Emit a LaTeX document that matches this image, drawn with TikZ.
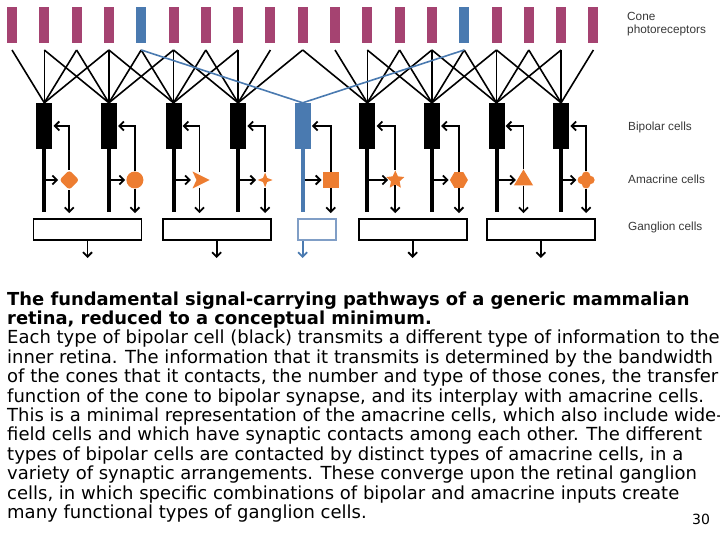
\documentclass[tikz,border=0pt]{standalone}
\usepackage{fontspec}
\usepackage{tikz}
\usetikzlibrary{arrows.meta, shapes.geometric}
\newfontfamily\lblfont{Liberation Sans}
\newfontfamily\txtfont{DejaVu Sans}
\definecolor{conepink}{RGB}{165,67,113}
\definecolor{coneblue}{RGB}{74,122,176}
\definecolor{amaorange}{RGB}{237,125,49}
\definecolor{gangblue}{RGB}{128,158,198}
\tikzset{every node/.append style={font=\lblfont\fontsize{11.8}{13}\selectfont}}
\tikzset{
  cone/.style={rectangle, fill=conepink, minimum width=10, minimum height=36, inner sep=0},
  bipolar/.style={rectangle, fill=black, minimum width=16, minimum height=46, inner sep=0},
  axon/.style={line width=4pt, shorten >=6pt},
  wire/.style={line width=1.6pt},
  ama/.style={fill=amaorange, inner sep=0, minimum size=17},
  gang/.style={draw, line width=1.8pt, fill=white, minimum width=108, minimum height=21, inner sep=0},
  sig/.style={->, line width=1.8pt, line join=miter},
  lbl/.style={anchor=west, inner sep=0, text=black!78, align=left},
  txt/.style={anchor=base west, inner sep=0, font=\txtfont\fontsize{18}{19}\selectfont},
  txtbold/.style={txt, font=\txtfont\bfseries\fontsize{17.9}{19}\selectfont},
}

\begin{document}
\begin{tikzpicture}[x=1pt, y=-1pt, >={Straight Barb[length=4.5pt, width=9pt]}]
    \useasboundingbox (0,0) rectangle (720,540);
    % cone photoreceptors, two of them blue
    \foreach \i in {1,...,19} {
        \ifnum\i=5 \def\cc{coneblue}\else\ifnum\i=15 \def\cc{coneblue}\else\def\cc{conepink}\fi\fi
        \node[cone, fill=\cc] (c\i) at ({12+(\i-1)*32.3}, 25) {};
        \coordinate (s\i) at ({12+(\i-1)*32.3}, 50);
    }
    % bipolar cells
    \foreach \j in {1,2,3,4,6,7,8,9} \node[bipolar] (b\j) at ({12+(2*\j-1)*32.3}, 126) {};
    \node[bipolar, fill=coneblue] (b5) at (302.7, 126) {};
    % each bipolar cell collects from the cones around it
    \foreach \j in {1,2,3,4,6,7,8,9} {
        \foreach \k in {-2,...,2} {
            \pgfmathtruncatemacro\i{2*\j+\k}
            \ifnum\i>0 \ifnum\i<20 \draw[wire] (s\i) -- (b\j.north); \fi\fi
        }
    }
    \draw[wire, coneblue] (s5) -- (b5.north);
    \draw[wire, coneblue] (s15) -- (b5.north);
    % ganglion cells
    \node[gang] (g1) at (87.5, 229.5) {};
    \node[gang] (g2) at (216.7, 229.5) {};
    \node[gang, draw=gangblue, minimum width=38] (g3) at (317, 229.5) {};
    \node[gang] (g4) at (412.7, 229.5) {};
    \node[gang] (g5) at (540.8, 229.5) {};
    \foreach \g/\x in {1/87.5, 2/216.7, 3/302.7, 4/412.7, 5/540.8} \coordinate (o\g) at (\x, 258);
    % amacrine cells
    \node[ama, diamond, rounded corners=3pt, minimum size=20] (a1) at ([shift={(25,54)}]b1) {};
    \node[ama, circle] (a2) at ([shift={(26,54)}]b2) {};
    \node[circle, inner sep=0, minimum size=15] (a3) at ([shift={(26,54)}]b3) {};
    \fill[amaorange] (a3) ++(-7,-8.5) -- ++(17,8.5) -- ++(-17,8.5) -- ++(4,-8.5) -- cycle;
    \node[ama, star, star points=4, star point ratio=2.6, minimum size=15] (a4) at ([shift={(27,54)}]b4) {};
    \node[ama, rectangle, minimum size=16] (a5) at ([shift={(28,54)}]b5) {};
    \node[ama, star, star points=5, star point ratio=2.1, minimum size=19] (a6) at ([shift={(28,54)}]b6) {};
    \node[ama, regular polygon, regular polygon sides=6, minimum size=18] (a7) at ([shift={(27,54)}]b7) {};
    \node[ama, isosceles triangle, isosceles triangle apex angle=62, shape border rotate=90, minimum height=16] (a8) at ([shift={(27,54)}]b8) {};
    \node[circle, inner sep=0, minimum size=17] (a9) at ([shift={(25,54)}]b9) {};
    \fill[amaorange] (a9) circle (4.5);
    \foreach \ang in {0,90,180,270} \fill[amaorange] (a9) ++(\ang:4.3) circle (4.2);
    % signal flow through the inner retina
    \foreach \j/\g in {1/1,2/1,3/2,4/2,6/4,7/4,8/5,9/5} {
        \draw[axon] (b\j.south) -- (b\j.south |- g\g.north);
        \draw[sig, shorten <=2pt, shorten >=1pt] (b\j.south |- a\j.west) -- (a\j.west);
        \draw[sig, shorten >=1pt] (a\j.north) |- (b\j.east);
        \draw[sig, shorten >=5pt] (a\j.south) -- (a\j.south |- g\g.north);
    }
    \draw[axon, coneblue] (b5.south) -- (b5.south |- g3.north);
    \draw[sig, shorten <=2pt, shorten >=1pt] (b5.south |- a5.west) -- (a5.west);
    \draw[sig, shorten >=1pt] (a5.north) |- (b5.east);
    \draw[sig, shorten >=5pt] (a5.south) -- (a5.south |- g3.north);
    \foreach \g in {1,2,4,5} \draw[sig] (g\g.south -| o\g) -- (o\g);
    \draw[sig, coneblue] (g3.south -| o3) -- (o3);
    % layer names
    \node[lbl] (lcone) at (627, 24.5) {Cone\\photoreceptors};
    \node[lbl] (lbip) at (628, 127) {Bipolar cells};
    \node[lbl] (lama) at (628, 179) {Amacrine cells};
    \node[lbl] (lgang) at (628, 227.5) {Ganglion cells};
    % caption
    \node[txtbold] (t1) at (7, 305) {The fundamental signal-carrying pathways of a generic mammalian};
    \node[txtbold] (t2) at (7, 324.4) {retina, reduced to a conceptual minimum.};
    \node[txt] (t3) at (7, 343.8) {Each type of bipolar cell (black) transmits a different type of information to the};
    \node[txt] (t4) at (7, 363.2) {inner retina. The information that it transmits is determined by the bandwidth};
    \node[txt] (t5) at (7, 382.6) {of the cones that it contacts, the number and type of those cones, the transfer};
    \node[txt] (t6) at (7, 402) {function of the cone to bipolar synapse, and its interplay with amacrine cells.};
    \node[txt] (t7) at (7, 421.4) {This is a minimal representation of the amacrine cells, which also include wide-};
    \node[txt] (t8) at (7, 440.8) {field cells and which have synaptic contacts among each other. The different};
    \node[txt] (t9) at (7, 460.2) {types of bipolar cells are contacted by distinct types of amacrine cells, in a};
    \node[txt] (t10) at (7, 479.6) {variety of synaptic arrangements. These converge upon the retinal ganglion};
    \node[txt] (t11) at (7, 499) {cells, in which specific combinations of bipolar and amacrine inputs create};
    \node[txt] (t12) at (7, 518.4) {many functional types of ganglion cells.};
    \node[txt, font=\txtfont\fontsize{14}{15}\selectfont] (pg) at (692, 524) {30};
\end{tikzpicture}
\end{document}
